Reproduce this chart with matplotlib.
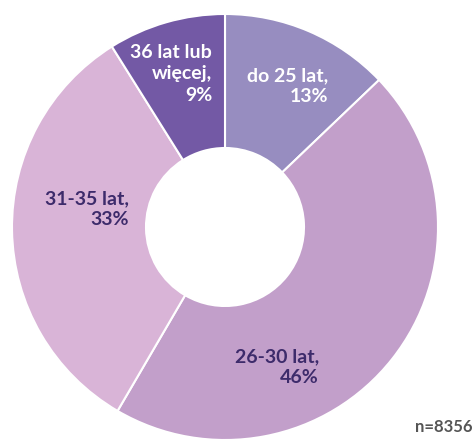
import matplotlib.pyplot as plt

# data
labels = ["do 25 lat,", "26-30 lat,", "31-35 lat,", "36 lat lub\nwięcej,"]
shares = [13, 46, 33, 9]
colors = ["#978dc0", "#c29fca", "#d9b4d7", "#7359a5"]
text_colors = ["white", "#3d2b6b", "#3d2b6b", "white"]
# label anchor (right edge, top line) in pixel coords, top-origin
label_pos = [(328, 67), (319, 348), (129, 190), (212, 44)]
n_total = 8356

W, H = 473, 442
fig = plt.figure(figsize=(W / 100, H / 100), dpi=100)
ax = fig.add_axes([0, 0, 1, 1])

R = 213
cx, cy = 225, H - 227
ax.pie(shares, colors=colors, startangle=90, counterclock=False,
       radius=R, center=(cx, cy), frame=True,
       wedgeprops=dict(width=R - 79, edgecolor="white", linewidth=1.5))
ax.set_xlim(0, W)
ax.set_ylim(0, H)
ax.set_aspect("equal")
ax.axis("off")

for lab, val, tc, (x, y) in zip(labels, shares, text_colors, label_pos):
    ax.text(x, H - y, f"{lab}\n{val}%", ha="right", va="top", color=tc,
            fontsize=14, fontweight="bold", family="Lato",
            linespacing=1.32)

ax.text(W - 1, H - 427, f"n={n_total}", ha="right", va="center",
        color="#555555", fontsize=12, fontweight="bold", family="Lato")

fig.savefig("out.png", dpi=100)
